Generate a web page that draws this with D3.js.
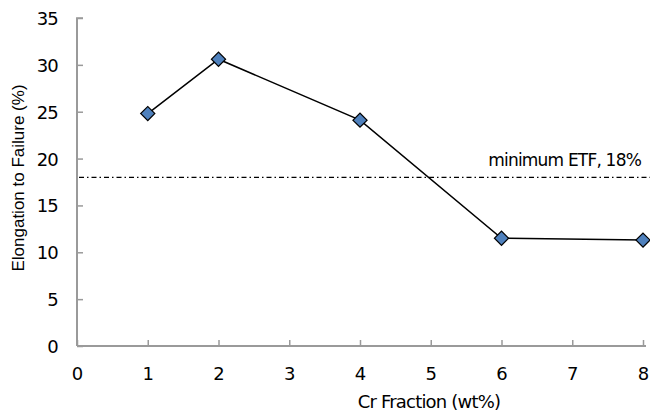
<!DOCTYPE html>
<html><head><meta charset="utf-8">
<script src="https://cdn.jsdelivr.net/npm/d3@7"></script>
<style>body{margin:0;background:#fff}svg{display:block}</style>
</head><body>
<script>
const crFraction = [1, 2, 4, 6, 8];
const elongation = [24.8, 30.6, 24.1, 11.5, 11.3];
const xTicks = [0, 1, 2, 3, 4, 5, 6, 7, 8];
const yTicks = [0, 5, 10, 15, 20, 25, 30, 35];
const minETF = 18;
const minLabel = "minimum ETF, 18%";
const xTitle = "Cr Fraction (wt%)";
const yTitle = "Elongation to Failure (%)";

const W = 650, H = 416;
const svg = d3.select("body").append("svg").attr("width", W).attr("height", H);
const x = d3.scaleLinear().domain([0, 8]).range([77, 643]);
const y = d3.scaleLinear().domain([0, 35]).range([346, 18]);
const font = "DejaVu Sans";
const axisCol = "#9a9a9a";

// y axis
const ya = svg.append("g").attr("transform", `translate(${x(0)},0)`)
  .call(d3.axisRight(y).tickValues(yTicks).tickSize(6).tickFormat(d3.format("d")));
ya.select(".domain").remove();
ya.selectAll("line").attr("stroke", axisCol).attr("stroke-width", 1.5);
ya.selectAll("text").attr("x", -19).attr("dy", "0.36em").attr("text-anchor", "end")
  .attr("font-family", font).attr("font-size", 18).attr("fill", "#000").attr("letter-spacing", -0.8);

// x axis
const xa = svg.append("g").attr("transform", `translate(0,${y(0)})`)
  .call(d3.axisTop(x).tickValues(xTicks).tickSize(6).tickFormat(d3.format("d")));
xa.select(".domain").remove();
xa.selectAll("line").attr("stroke", axisCol).attr("stroke-width", 1.5);
xa.selectAll("text").attr("y", 34).attr("dy", 0).attr("text-anchor", "middle")
  .attr("font-family", font).attr("font-size", 18).attr("fill", "#000");

// axis lines
svg.append("line").attr("x1", x(0)).attr("x2", x(0)).attr("y1", y(35)).attr("y2", y(0))
  .attr("stroke", axisCol).attr("stroke-width", 2);
svg.append("line").attr("x1", x(0)).attr("x2", 646).attr("y1", y(0)).attr("y2", y(0))
  .attr("stroke", axisCol).attr("stroke-width", 2);
svg.append("line").attr("x1", x(0) - 1).attr("x2", x(0) + 6).attr("y1", y(35)).attr("y2", y(35))
  .attr("stroke", axisCol).attr("stroke-width", 1.5);

// minimum ETF line
svg.append("line").attr("x1", x(0) + 2).attr("x2", 650).attr("y1", y(minETF)).attr("y2", y(minETF))
  .attr("stroke", "#000").attr("stroke-width", 1.3).attr("stroke-dasharray", "5,3,1.5,3");
svg.append("text").attr("x", 641).attr("y", y(minETF) - 11).attr("text-anchor", "end")
  .attr("font-family", font).attr("font-size", 17).attr("letter-spacing", -0.8).text(minLabel);

// series line
const pts = crFraction.map((c, i) => [c, elongation[i]]);
svg.append("path").datum(pts)
  .attr("d", d3.line().x(d => x(d[0])).y(d => y(d[1])))
  .attr("fill", "none").attr("stroke", "#000").attr("stroke-width", 1.5);

// markers
svg.selectAll("path.m").data(pts).join("path").attr("class", "m")
  .attr("d", d3.symbol().type(d3.symbolSquare).size(100))
  .attr("transform", d => `translate(${x(d[0])},${y(d[1])}) rotate(45)`)
  .attr("fill", "#4F81BD").attr("stroke", "#000").attr("stroke-width", 1.2);

// titles
svg.append("text").attr("x", 429).attr("y", 408).attr("text-anchor", "middle")
  .attr("font-family", font).attr("font-size", 18).attr("letter-spacing", -0.8).text(xTitle);
svg.append("text").attr("transform", "translate(24,178) rotate(-90)").attr("text-anchor", "middle")
  .attr("font-family", "Liberation Sans").attr("font-size", 17).text(yTitle);
</script>
</body></html>
